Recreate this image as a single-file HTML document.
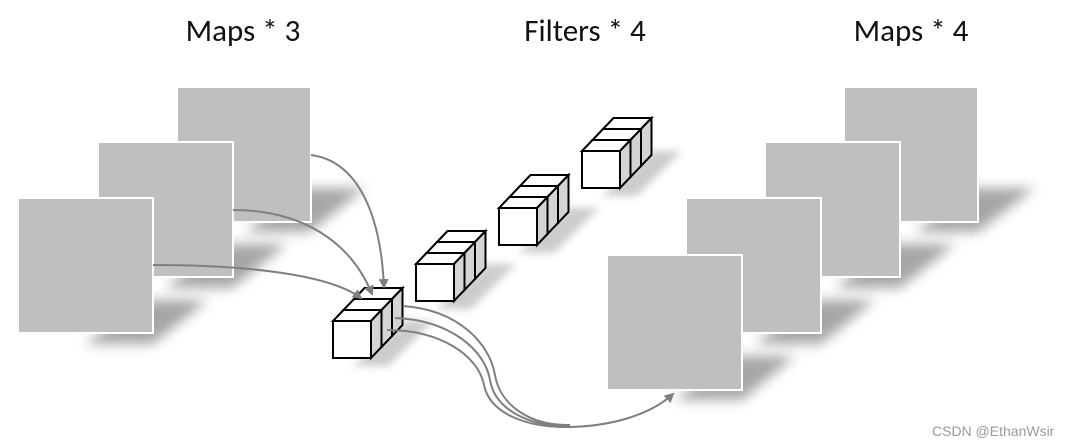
<!DOCTYPE html>
<html><head><meta charset="utf-8"><style>
html,body{margin:0;padding:0;background:#fff;}
svg{display:block;}
</style></head><body>
<svg width="1068" height="445" viewBox="0 0 1068 445" xmlns="http://www.w3.org/2000/svg">
<defs>
<filter id="bl" x="-50%" y="-50%" width="200%" height="200%"><feGaussianBlur stdDeviation="6"/></filter>
<filter id="bs" x="-50%" y="-50%" width="200%" height="200%"><feGaussianBlur stdDeviation="4"/></filter>
<marker id="ah" markerWidth="10" markerHeight="10" refX="8" refY="5" orient="auto" markerUnits="userSpaceOnUse">
<path d="M0,0 L10,5 L0,10 Z" fill="#7f7f7f"/></marker>
<g id="cube" stroke="#000" stroke-width="2" stroke-linejoin="miter">
<polygon points="0,0 38,0 48.5,-11 10.5,-11" fill="#fff"/>
<polygon points="38,0 48.5,-11 48.5,26 38,37" fill="#d4d4d4"/>
<rect x="0" y="0" width="38" height="37" fill="#fff"/>
</g>
<g id="filt">
<polygon points="20,45 55,45 100,0 70,0" fill="#aaa" opacity="0.6" filter="url(#bs)"/>
<use href="#cube" x="21" y="-22"/>
<use href="#cube" x="10.5" y="-11"/>
<use href="#cube" x="0" y="0"/>
</g>
</defs>

<g font-family="Calibri, 'Liberation Sans', sans-serif" font-size="31" fill="#111">
<text x="243" y="41" text-anchor="middle">Maps * 3</text>
<text x="585" y="41" text-anchor="middle">Filters * 4</text>
<text x="911" y="41" text-anchor="middle">Maps * 4</text>
</g>

<!-- left maps -->
<g>
<polygon points="245,232 310,232 365,188 300,188" fill="#888" opacity="0.75" filter="url(#bl)"/>
<rect x="177" y="87" width="134" height="135" fill="#bfbfbf" stroke="#fff" stroke-width="2"/>
<polygon points="165,288 232,288 287,244 222,244" fill="#888" opacity="0.75" filter="url(#bl)"/>
<rect x="98" y="142" width="135" height="135" fill="#bfbfbf" stroke="#fff" stroke-width="2"/>
<polygon points="85,344 153,344 208,300 143,300" fill="#888" opacity="0.75" filter="url(#bl)"/>
<rect x="18" y="198" width="135" height="135" fill="#bfbfbf" stroke="#fff" stroke-width="2"/>
</g>

<!-- right maps -->
<g>
<polygon points="915,232 978,232 1035,188 970,188" fill="#888" opacity="0.75" filter="url(#bl)"/>
<rect x="844" y="87" width="134" height="135" fill="#bfbfbf" stroke="#fff" stroke-width="2"/>
<polygon points="835,288 900,288 955,244 890,244" fill="#888" opacity="0.75" filter="url(#bl)"/>
<rect x="765" y="142" width="135" height="135" fill="#bfbfbf" stroke="#fff" stroke-width="2"/>
<polygon points="755,344 821,344 875,300 810,300" fill="#888" opacity="0.75" filter="url(#bl)"/>
<rect x="686" y="198" width="135" height="135" fill="#bfbfbf" stroke="#fff" stroke-width="2"/>
<polygon points="675,400 742,400 795,356 730,356" fill="#888" opacity="0.75" filter="url(#bl)"/>
<rect x="607" y="255" width="135" height="135" fill="#bfbfbf" stroke="#fff" stroke-width="2"/>
</g>

<!-- filters -->
<use href="#filt" x="582" y="151"/>
<use href="#filt" x="499" y="208"/>
<use href="#filt" x="416" y="264"/>
<use href="#filt" x="333" y="321"/>

<!-- input arrows -->
<g fill="none" stroke="#7f7f7f" stroke-width="2">
<path d="M311,155 C350,160 380,200 384,287" marker-end="url(#ah)"/>
<path d="M233,210 C300,210 350,240 372,294" marker-end="url(#ah)"/>
<path d="M153,265 C250,265 330,275 361,298" marker-end="url(#ah)"/>
<!-- output curves -->
<path d="M403,306 C460,310 490,345 495,375 C500,405 530,426 570,425"/>
<path d="M395,318 C450,320 485,350 490,380 C495,410 530,427 570,426"/>
<path d="M387,330 C440,330 478,355 484,385 C490,415 530,428 570,427"/>
<path d="M565,427 C610,427 650,415 673,394" marker-end="url(#ah)"/>
</g>

<text x="932" y="436" font-family="'Liberation Sans', sans-serif" font-size="14" fill="#999">CSDN @EthanWsir</text>
</svg>
</body></html>
